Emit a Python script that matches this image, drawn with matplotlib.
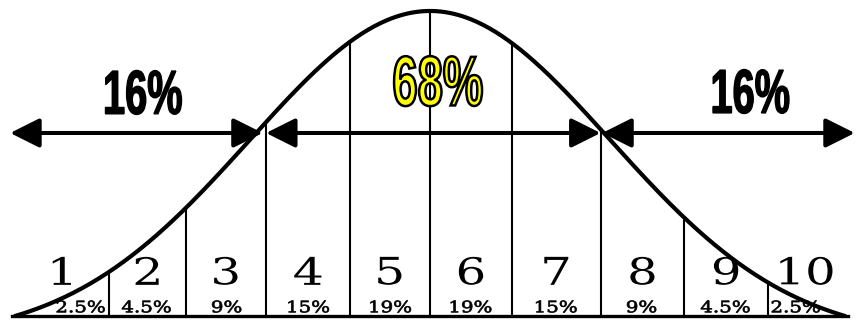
import numpy as np
import matplotlib
matplotlib.use("Agg")
import matplotlib.pyplot as plt
from matplotlib.textpath import TextPath
from matplotlib.patches import PathPatch
from matplotlib.font_manager import FontProperties
from matplotlib.transforms import Affine2D

# sten bands: labels and share of population in each band
stens = ['1', '2', '3', '4', '5', '6', '7', '8', '9', '10']
shares = ['2.5%', '4.5%', '9%', '15%', '19%', '19%', '15%', '9%', '4.5%', '2.5%']
# band edges in SD units
edges = [-2.53, -1.96, -1.49, -1.0, -0.49, 0.0, 0.5, 1.04, 1.55, 2.06, 2.53]
# x position of the small % labels (first/last sit off-centre)
share_x = [-2.13, -1.73, -1.24, -0.74, -0.24, 0.25, 0.77, 1.29, 1.80, 2.23]
# the three arrows and their labels
arrow_spans = [(-2.56, -1.02), (-1.0, 1.04), (1.05, 2.59)]
arrow_labels = ['16%', '68%', '16%']
arrow_label_x = [-1.747, 0.049, 1.957]
arrow_label_y = [0.733, 0.770, 0.736]
arrow_y = 0.60

curve_sd = 1.10   # shape of the drawn bell
curve_end = 2.53  # where it meets the baseline

PX_X = 1 / 164.0  # data units per pixel
PX_Y = 1 / 305.0


def bell(z):
    e0 = np.exp(-curve_end ** 2 / (2 * curve_sd ** 2))
    return (np.exp(-np.asarray(z) ** 2 / (2 * curve_sd ** 2)) - e0) / (1 - e0)


def path_text(ax, x, y, s, height, prop, stretch=1.0, width=None,
              face='black', edge='none', lw=0, z=4):
    # text drawn as a path so it can be squeezed / widened like the original
    tp = TextPath((0, 0), s, size=100, prop=prop)
    bb = tp.get_extents()
    k = height / bb.height
    sx = width / bb.width if width else k * stretch
    tr = (Affine2D().translate(-bb.x0 - bb.width / 2, -bb.y0 - bb.height / 2)
          .scale(sx * PX_X, k * PX_Y).translate(x, y) + ax.transData)
    ax.add_patch(PathPatch(tp, transform=tr, facecolor=face, edgecolor=edge,
                           lw=lw, zorder=z))


fig = plt.figure(figsize=(8.63, 3.22), dpi=100)
ax = fig.add_axes([0, 0, 1, 1])
ax.set_xlim(-2.622, 2.640)
ax.set_ylim(-0.0197, 1.036)
ax.axis('off')

# bell curve and baseline
zz = np.linspace(-curve_end, curve_end, 400)
ax.plot(zz, bell(zz), color='black', lw=3, solid_capstyle='round', zorder=3)
ax.plot([edges[0] - 0.02, edges[-1] + 0.02], [0, 0], color='black', lw=2.4, zorder=3)

# band dividers up to the curve
for e in edges[1:-1]:
    ax.plot([e, e], [0, bell(e)], color='black', lw=1.5, zorder=2)

serif = FontProperties(family='DejaVu Serif')
sans_b = FontProperties(family='Liberation Sans', weight='bold')

# band numbers and shares
centres = [(a + b) / 2 for a, b in zip(edges[:-1], edges[1:])]
for c, s in zip(centres, stens):
    path_text(ax, c, 0.148, s, 28, serif, stretch=1.3)
for x, s in zip(share_x, shares):
    path_text(ax, x, 0.031, s, 12, serif, stretch=1.25, edge='black', lw=0.5)

# arrows
for (a, b) in arrow_spans:
    ax.annotate('', xy=(a, arrow_y), xytext=(b, arrow_y),
                arrowprops=dict(arrowstyle='<|-|>,head_length=1.8,head_width=0.9',
                                color='black', lw=2.9, shrinkA=0, shrinkB=0,
                                mutation_scale=10), zorder=5)

for x, y, s in zip(arrow_label_x, arrow_label_y, arrow_labels):
    if s == '68%':
        path_text(ax, x, y, s, 50, sans_b, width=88, face='#ffff00',
                  edge='black', lw=1.8, z=6)
    else:
        path_text(ax, x, y, s, 44, sans_b, width=76, edge='black', lw=1.0, z=6)

fig.savefig('out.png', dpi=100, facecolor='white')
